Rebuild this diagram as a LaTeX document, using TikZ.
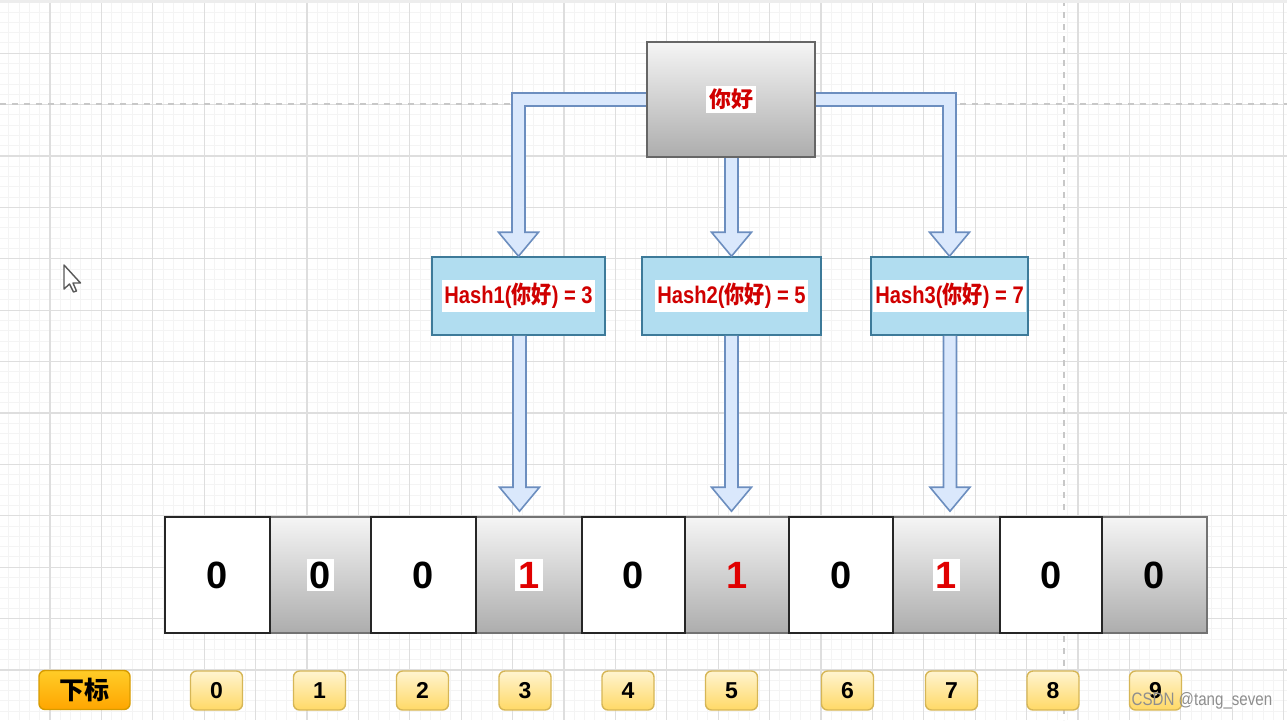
\documentclass[tikz,border=0pt]{standalone}
\usepackage{fontspec}
\usepackage{graphicx}
\setmainfont{Liberation Sans}
\newfontfamily\cjk{Noto Sans CJK SC}
\usetikzlibrary{calc}

\definecolor{gridminor}{HTML}{F4F4F4}
\definecolor{gridmajor}{HTML}{DEDEDE}
\definecolor{dashcol}{HTML}{C8C8C8}
\definecolor{arrowfill}{HTML}{DAE8FC}
\definecolor{arrowdraw}{HTML}{6C8EBF}
\definecolor{hashfill}{HTML}{B1DDF0}
\definecolor{hashdraw}{HTML}{3D7A99}
\definecolor{txtred}{HTML}{D00000}
\definecolor{onered}{HTML}{E00000}
\definecolor{graytop}{HTML}{F5F5F5}
\definecolor{graybot}{HTML}{ADADAD}
\definecolor{idxtop}{HTML}{FFF4D0}
\definecolor{idxbot}{HTML}{FFD966}
\definecolor{idxdraw}{HTML}{D6B656}
\definecolor{orgtop}{HTML}{FFCD28}
\definecolor{orgbot}{HTML}{FFA500}
\definecolor{orgdraw}{HTML}{D79B00}
\definecolor{wmcol}{HTML}{8E8E8E}

\newcommand\hlw[1]{{\setlength{\fboxsep}{1.5pt}\colorbox{white}{#1}}}

\tikzset{
  minorline/.style={draw=gridminor, line width=0.5pt},
  majorline/.style={draw=gridmajor, line width=0.6pt},
  blockarrow/.style={fill=arrowfill, draw=arrowdraw, line width=0.8pt, line join=miter},
  graybox/.style={draw=black!60, top color=graytop, bottom color=graybot, line width=0.8pt, inner sep=0pt},
  hashbox/.style={draw=hashdraw, fill=hashfill, line width=0.8pt, inner sep=0pt, minimum height=39pt,
    font=\fontsize{12}{14}\selectfont\bfseries, text=txtred},
  cellwhite/.style={draw=black!85, fill=white, line width=0.8pt, minimum height=58pt, inner sep=0pt,
    font=\fontsize{19}{22}\selectfont\bfseries},
  cellgray/.style={draw=black!55, top color=graytop, bottom color=graybot, line width=0.8pt, minimum height=58pt, inner sep=0pt,
    font=\fontsize{19}{22}\selectfont\bfseries},
  idxbox/.style={draw=idxdraw, top color=idxtop, bottom color=idxbot, rounded corners=3pt, line width=0.7pt,
    minimum width=26pt, minimum height=19.5pt, inner sep=0pt, font=\fontsize{11.5}{13}\selectfont\bfseries},
  orgbox/.style={draw=orgdraw, top color=orgtop, bottom color=orgbot, rounded corners=3pt, line width=0.7pt,
    minimum width=45.5pt, minimum height=19.5pt, inner sep=0pt, font=\cjk\fontsize{12.5}{14}\selectfont\bfseries},
}

\begin{document}
\begin{tikzpicture}[x=0.5pt, y=-0.5pt]
\useasboundingbox (0,0) rectangle (1287,720);
\fill[white] (0,0) rectangle (1287,720);
% grid
\foreach \i in {0,...,125} \draw[minorline] ({-1.4+10.28*\i},0) -- ({-1.4+10.28*\i},720);
\foreach \i in {0,...,70} \draw[minorline] (0,{1.8+10.28*\i}) -- (1287,{1.8+10.28*\i});
\foreach \i in {0,...,25} \draw[majorline] ({-1.4+51.4*\i},0) -- ({-1.4+51.4*\i},720);
\foreach \i in {0,...,14} \draw[majorline] (0,{1.8+51.4*\i}) -- (1287,{1.8+51.4*\i});
\draw[dashcol, dashed, line width=0.8pt] (0,104) -- (1287,104);
\draw[dashcol, dashed, line width=0.8pt] (1064,0) -- (1064,720);
\fill[black!7] (0,0) rectangle (1287,3);

% cursor
\draw[fill=white, draw=black!65, line width=0.7pt, line join=round]
  (64,265) -- (64,289) -- (69.5,284) -- (73.5,292) -- (76.5,291) -- (73,283) -- (80.5,283) -- cycle;

% nodes (positions)
\path (731,99.5) coordinate (topc);
\node[hashbox, minimum width=86.5pt] (h1) at (518.5,296) {\scalebox{0.84}[1]{\hlw{Hash1({\cjk 你好}) = 3}}};
\node[hashbox, minimum width=89.5pt] (h2) at (731.5,296) {\scalebox{0.84}[1]{\hlw{Hash2({\cjk 你好}) = 5}}};
\node[hashbox, minimum width=78.5pt] (h3) at (949.5,296) {\scalebox{0.84}[1]{\hlw{Hash3({\cjk 你好}) = 7}}};

% array cells
\node[cellgray, minimum width=50.5pt] (c1) at (320.5,575) {\hlw{0}};
\node[cellgray, minimum width=53pt]   (c3) at (529,575)   {\hlw{\textcolor{onered}{1}}};
\node[cellgray, minimum width=52pt]   (c5) at (737,575)   {\textcolor{onered}{1}};
\node[cellgray, minimum width=53.5pt] (c7) at (946.5,575) {\hlw{\textcolor{onered}{1}}};
\node[cellgray, minimum width=52.5pt] (c9) at (1154.5,575) {0};
\node[cellwhite, minimum width=52.5pt] (c0) at (217.5,575) {0};
\node[cellwhite, minimum width=52.5pt] (c2) at (423.5,575) {0};
\node[cellwhite, minimum width=51.5pt] (c4) at (633.5,575) {0};
\node[cellwhite, minimum width=52pt]   (c6) at (841,575)   {0};
\node[cellwhite, minimum width=51pt]   (c8) at (1051,575)  {0};

% block arrows from top box to hash boxes
\draw[blockarrow] ($(topc)+(-84,-6.5)$) -- ($(h1.north |- topc)+(-6.5,-6.5)$) -- ($(h1.north)+(-6.5,-24)$)
  -- ($(h1.north)+(-20,-24)$) -- (h1.north) -- ($(h1.north)+(20,-24)$) -- ($(h1.north)+(6.5,-24)$)
  -- ($(h1.north |- topc)+(6.5,6.5)$) -- ($(topc)+(-84,6.5)$) -- cycle;
\draw[blockarrow] ($(h2.north |- topc)+(-6.5,40)$) -- ($(h2.north)+(-6.5,-24)$)
  -- ($(h2.north)+(-20,-24)$) -- (h2.north) -- ($(h2.north)+(20,-24)$) -- ($(h2.north)+(6.5,-24)$)
  -- ($(h2.north |- topc)+(6.5,40)$) -- cycle;
\draw[blockarrow] ($(topc)+(84,-6.5)$) -- ($(h3.north |- topc)+(6.5,-6.5)$) -- ($(h3.north)+(6.5,-24)$)
  -- ($(h3.north)+(20,-24)$) -- (h3.north) -- ($(h3.north)+(-20,-24)$) -- ($(h3.north)+(-6.5,-24)$)
  -- ($(h3.north |- topc)+(-6.5,6.5)$) -- ($(topc)+(84,6.5)$) -- cycle;

% top box (drawn over arrow ends)
\node[graybox, minimum width=84pt, minimum height=57.5pt, font=\cjk\fontsize{11}{13}\selectfont\bfseries, text=txtred]
  (top) at (topc) {\hlw{你好}};

% block arrows from hash boxes to array
\coordinate (t1) at ($(h1.south |- c3.north)+(1,-5)$);
\coordinate (t2) at ($(h2.south |- c5.north)+(0,-5)$);
\coordinate (t3) at ($(h3.south |- c7.north)+(0.5,-5)$);
\foreach \h/\t in {h1/t1, h2/t2, h3/t3}{
  \draw[blockarrow] ($(\h.south -| \t)+(-6.5,0)$) -- ($(\t)+(-6.5,-24)$) -- ($(\t)+(-20,-24)$) -- (\t)
    -- ($(\t)+(20,-24)$) -- ($(\t)+(6.5,-24)$) -- ($(\h.south -| \t)+(6.5,0)$);
}

% index row
\node[orgbox] (lbl) at (84.5,690) {下标};
\node[idxbox] (i0) at (216.5,690.5) {0};
\node[idxbox] (i1) at (319.5,690.5) {1};
\node[idxbox] (i2) at (422.5,690.5) {2};
\node[idxbox] (i3) at (525,690.5) {3};
\node[idxbox] (i4) at (628,690.5) {4};
\node[idxbox] (i5) at (731.5,690.5) {5};
\node[idxbox] (i6) at (847.5,690.5) {6};
\node[idxbox] (i7) at (951.5,690.5) {7};
\node[idxbox] (i8) at (1053,690.5) {8};
\node[idxbox] (i9) at (1155.5,690.5) {9};

% watermark
\node[font=\fontsize{9}{10}\selectfont, text=wmcol, inner sep=0pt] (wm) at (1202,701) {\scalebox{0.84}[1]{CSDN @tang\_seven}};
\end{tikzpicture}
\end{document}
